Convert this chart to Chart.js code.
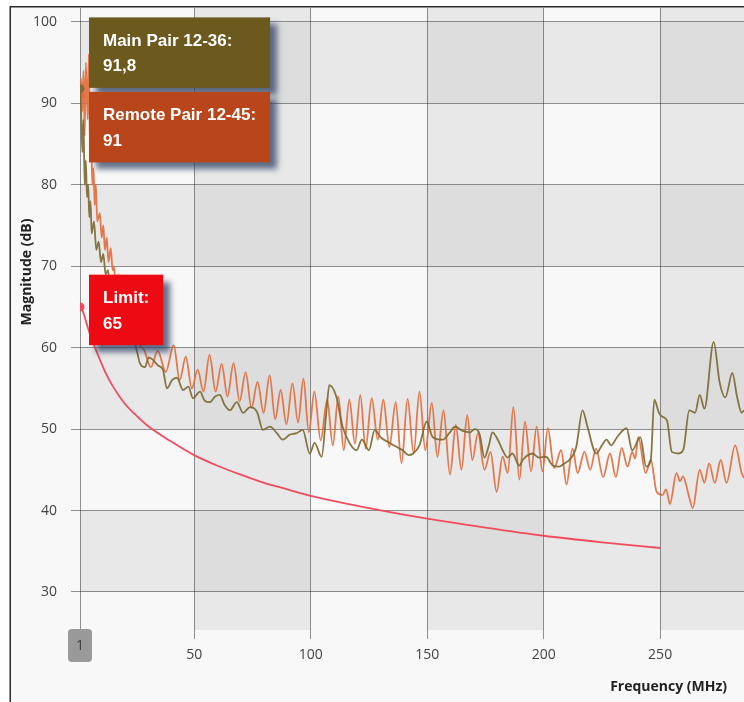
<!DOCTYPE html>
<html>
<head>
<meta charset="utf-8">
<script src="https://cdn.jsdelivr.net/npm/chart.js@4/dist/chart.umd.min.js"></script>
<style>
  html, body { margin: 0; padding: 0; background: #ffffff; overflow: hidden; }
  #wrap { position: absolute; left: 0; top: 0; width: 744px; height: 702px; }
</style>
</head>
<body>
<div id="wrap"><canvas id="chart" width="744" height="702"></canvas></div>
<script>
// Frequency sweep (MHz) and measured magnitude (dB) for each pair
const mainFreq = [1, 1.5, 2, 2.5, 3, 3.5, 4, 4.5, 5, 5.5, 6, 7, 8, 9, 10, 11, 12, 13, 14, 15, 16, 17, 18, 20, 22, 24, 25.5,
  26.7, 28.9, 30.5, 32.3, 34.5, 36.6, 38.3, 40.5, 42.6, 45.2, 47.5, 49.5, 52.5, 54.5, 56.7, 59, 61, 63, 65.3, 68.3, 71, 74,
  77, 79.5, 82.5, 85.5, 88, 91, 94, 96.6, 99.6, 101.7, 104.7, 106.8, 108, 111, 113.7, 116.7, 119.7, 122, 125, 127.5, 130,
  134, 137, 139.5, 142, 144, 146.7, 149.8, 152.4, 156.7, 159.5, 162, 165, 168.4, 170.5, 172.5, 174.6, 176.5, 178, 181,
  182.4, 184.5, 186.6, 189.6, 191, 195.2, 198, 201, 204, 206.6, 209, 211, 214, 216.7, 218.8, 222.6, 225, 227, 229, 231.5,
  235.6, 238, 241.5, 244, 246, 247.5, 249.5, 251, 253, 255, 258, 260, 262.5, 265, 267, 269, 273, 275.5, 278, 281, 283, 285, 286];
const mainDb = [91.8, 89, 84, 88, 80, 83, 78.5, 80, 76, 78, 74, 75.5, 72, 73, 70.5, 71.5, 69, 69.5, 67.5, 68, 66, 66.5, 65, 64, 62.5, 61, 59.5,
  58.1, 57.6, 58.8, 58.5, 57.8, 57.3, 55.0, 56.0, 56.3, 54.8, 55.2, 53.8, 54.6, 53.5, 53.3, 54.0, 54.2, 53.0, 52.3, 53.3, 52.0, 52.7,
  52.1, 49.9, 50.3, 49.5, 48.7, 49.3, 49.5, 49.9, 47.0, 48.3, 46.6, 52.3, 55.4, 54.0, 50.3, 48.3, 47.4, 48.7, 47.4, 49.9, 49.0,
  48.3, 47.8, 47.4, 46.8, 47.0, 48.0, 50.9, 49.0, 48.7, 49.5, 50.3, 49.8, 49.6, 50.0, 49.4, 46.5, 48.0, 49.6, 48.3,
  47.4, 46.5, 47.0, 45.5, 46.2, 47.0, 46.5, 46.6, 45.5, 45.4, 45.8, 46.2, 47.8, 52.3, 50.3, 47.0, 48.0, 48.7, 48.0, 49.0,
  50.1, 47.4, 49.0, 45.4, 46.2, 53.6, 52.0, 51.5, 51.0, 47.2, 47.0, 47.5, 52.3, 52.0, 54.2, 52.5, 60.7, 55.8, 53.9, 56.9, 54.0, 52.0, 52.3];

const remoteFreq = [1, 1.5, 2, 2.5, 3, 3.5, 4.3, 4.8, 5.3, 5.8, 6.3, 6.8, 7.3, 7.8, 8.4, 9.5, 10.3, 11, 11.7, 12.5, 13.2, 14.2,
  15, 15.5, 16.5, 17.5, 18.5, 19.5, 20.5, 21.5, 22.5, 23.5, 24.5, 25.5, 26.5,
  28.4, 31.4, 34.4, 37.8, 41.2, 43.8, 46.4, 49, 51.5, 54, 56.6, 59.2, 61.8, 64.3, 66.9, 69.5, 72.1, 74.6, 77.2, 79.8,
  82.4, 84.8, 87.1, 89.6, 92.2, 94.6, 96.9, 99.2, 101.6, 104.3, 107.1, 109.5, 111.9, 114.2, 116.6, 119, 121.3, 123.6,
  126.2, 128.8, 131.2, 133.8, 136.5, 139, 141.6, 144.2, 146.7, 149.2, 152, 154.4, 157, 159.8, 162.3, 164.7, 167.2, 169.4,
  171.8, 174.6, 177.2, 179.8, 182.4, 184.6, 187, 189.6, 192, 194.6, 197, 199.5, 201.8, 204.5, 207.5, 209.8, 212.4, 214.6,
  217.5, 220, 222.5, 225.5, 228.5, 231, 233.5, 236, 238, 239.3, 240.6, 243.8, 246, 248.5, 251, 252.6, 254.2, 257, 258.6,
  259.8, 262.5, 264, 267, 269, 271, 273.5, 276, 278.5, 282.2, 285, 286];
const remoteDb = [91, 93, 89, 94, 86, 95, 88, 96, 84, 85, 80, 82, 77.5, 80, 75.5, 76.5, 73.5, 75, 72, 73.5, 70.5, 72.2,
  69.5, 70, 67.5, 69, 66, 67, 64.5, 65.5, 63, 64, 61.5, 62.5, 60.5,
  59.8, 57.6, 59.6, 57.0, 60.3, 56.0, 58.9, 55.0, 57.3, 54.6, 59.1, 54.6, 58.0, 54.0, 58.1, 53.4, 57.0, 52.6, 55.8, 52.0,
  56.6, 51.2, 54.8, 50.6, 55.6, 50.8, 56.2, 49.6, 54.6, 48.6, 53.6, 48.0, 54.0, 47.4, 53.6, 48.2, 54.2, 47.6,
  53.8, 48.7, 53.6, 47.8, 53.3, 45.8, 53.7, 47.0, 54.6, 47.4, 53.2, 46.6, 52.3, 44.4, 50.5, 45.0, 51.7, 46.2,
  49.5, 45.0, 47.2, 42.3, 46.6, 44.6, 52.7, 43.8, 50.9, 44.8, 50.3, 44.8, 50.1, 45.2, 47.4, 43.2, 47.6, 44.6,
  47.2, 45.0, 47.6, 44.1, 47.0, 44.1, 47.7, 45.4, 47.2, 46.4, 49.0, 44.6, 46.2, 42.3, 41.9, 42.6, 40.8, 44.6, 43.6,
  44.2, 41.6, 40.3, 45.0, 43.4, 45.8, 43.4, 46.2, 43.4, 48.0, 44.6, 44.0];

const limitFreq = [1, 2, 3, 4, 5, 6, 7, 8, 10, 12, 15, 20, 25, 30, 40, 50, 60, 70, 80, 90, 100, 125, 150, 175, 200, 225, 250];
const limitDb = [65, 64.6, 63.8, 62.8, 61.9, 61.0, 60.3, 59.6, 58.2, 56.9, 55.3, 53.2, 51.7, 50.4, 48.5, 46.8, 45.5, 44.4,
  43.4, 42.6, 41.8, 40.3, 39.0, 37.9, 36.9, 36.1, 35.4];

const xTicks = [1, 50, 100, 150, 200, 250];
const yTicks = [30, 40, 50, 60, 70, 80, 90, 100];
const xRange = [1, 286];
const yRange = [25.33, 101.7];

const seriesNames = ['Main Pair 12-36', 'Remote Pair 12-45', 'Limit'];
const lineColors = ['rgba(122,104,48,0.9)', 'rgba(226,108,60,0.9)', 'rgba(242,66,88,0.95)'];
const boxColors = ['#6c591d', '#b9461a', '#ee0a13'];

const toPoints = (fs, vs) => fs.map((f, i) => ({ x: f, y: vs[i] }));
const fmt = v => String(v).replace('.', ',');

const TICK_FONT = { family: '"Open Sans", "Noto Sans", sans-serif', size: 14 };

// Background: frame, alternating row/column bands
const backdrop = {
  id: 'backdrop',
  beforeDraw(chart) {
    const { ctx, chartArea: a, scales } = chart;
    ctx.save();
    ctx.fillStyle = '#ffffff';
    ctx.fillRect(0, 0, chart.width, chart.height);
    ctx.fillStyle = '#f8f8f8';
    ctx.fillRect(10, 7, chart.width - 10, chart.height - 7);
    const xs = scales.x, ys = scales.y;
    for (let c = 0; c < 300; c += 50) {
      for (let r = 20; r < 110; r += 10) {
        const colBand = (c / 50) % 2 === 1;
        const rowBand = (r / 10) % 2 === 1;
        if (!colBand && !rowBand) continue;
        let x0 = Math.max(a.left, xs.getPixelForValue(c));
        let x1 = Math.min(a.right, xs.getPixelForValue(c + 50));
        let y0 = Math.max(a.top, ys.getPixelForValue(r + 10));
        let y1 = Math.min(a.bottom, ys.getPixelForValue(r));
        if (x1 <= x0 || y1 <= y0) continue;
        ctx.fillStyle = colBand && rowBand ? '#dddddd' : '#e8e8e8';
        ctx.fillRect(x0, y0, x1 - x0, y1 - y0);
      }
    }
    ctx.strokeStyle = '#2a2a2a';
    ctx.lineWidth = 1.5;
    ctx.beginPath();
    ctx.moveTo(10.25, chart.height);
    ctx.lineTo(10.25, 6.75);
    ctx.lineTo(chart.width, 6.75);
    ctx.stroke();
    ctx.restore();
  }
};

// Value boxes at the first sweep point, axis titles and the crosshair badge
const overlay = {
  id: 'overlay',
  afterDraw(chart) {
    const { ctx, chartArea: a, scales } = chart;
    const xs = scales.x, ys = scales.y;
    ctx.save();

    // crosshair badge on the x axis
    const bx = xs.getPixelForValue(xTicks[0]);
    ctx.fillStyle = '#999999';
    ctx.beginPath();
    ctx.roundRect(bx - 12, a.bottom - 1, 24, 33, 4);
    ctx.fill();
    ctx.fillStyle = '#3c3c3c';
    ctx.font = '14px "Open Sans", sans-serif';
    ctx.textAlign = 'center';
    ctx.textBaseline = 'middle';
    ctx.fillText(String(xTicks[0]), bx, a.bottom + 16);

    // axis titles
    ctx.fillStyle = '#222222';
    ctx.font = 'bold 14px "Open Sans", sans-serif';
    ctx.textAlign = 'right';
    ctx.fillText('Frequency (MHz)', 727, 687);
    ctx.save();
    ctx.translate(27, 272);
    ctx.rotate(-Math.PI / 2);
    ctx.textAlign = 'center';
    ctx.fillText('Magnitude (dB)', 0, 0);
    ctx.restore();

    // value boxes
    ctx.font = 'bold 17px "Liberation Sans", Arial, sans-serif';
    const boxH = 70.5, padX = 14, gap = 4;
    const bodies = chart.data.datasets.map((ds, i) => {
      const v = ds.data[0].y;
      const lines = [seriesNames[i] + ':', fmt(v)];
      const w = Math.max(...lines.map(t => ctx.measureText(t).width)) + padX * 2;
      return { i, v, y: ys.getPixelForValue(v), lines, w };
    });
    // pairs whose boxes would overlap are stacked around their mean position
    const pair = [bodies[0], bodies[1]].sort((p, q) => q.v - p.v);
    const mid = (pair[0].y + pair[1].y) / 2 - 2;
    const wPair = Math.max(pair[0].w, pair[1].w);
    pair[0].top = mid - gap / 2 - boxH; pair[0].w = wPair;
    pair[1].top = mid + gap / 2; pair[1].w = wPair;
    bodies[2].top = bodies[2].y - boxH / 2 + 3;

    const left = bx + 9;
    [pair[0], pair[1], bodies[2]].forEach(b => {
      ctx.save();
      ctx.shadowColor = 'rgba(45,65,100,0.75)';
      ctx.shadowBlur = 6;
      ctx.shadowOffsetX = 7;
      ctx.shadowOffsetY = 7;
      ctx.fillStyle = boxColors[b.i];
      ctx.fillRect(left, b.top, b.w, boxH);
      ctx.restore();
      ctx.fillStyle = '#ffffff';
      ctx.textAlign = 'left';
      ctx.textBaseline = 'alphabetic';
      ctx.fillText(b.lines[0], left + padX, b.top + 28.5);
      ctx.fillText(b.lines[1], left + padX, b.top + 54);
    });
    ctx.restore();
  }
};

const makeSet = (i, fs, vs, width) => ({
  label: seriesNames[i],
  data: toPoints(fs, vs),
  borderColor: lineColors[i],
  backgroundColor: lineColors[i],
  borderWidth: width,
  cubicInterpolationMode: 'monotone',
  pointRadius: c => (c.dataIndex === 0 ? 4.5 : 0),
  pointBorderWidth: 0,
  pointHoverRadius: 0,
  fill: false
});

const noEdgePadding = s => { s.paddingTop = 0; s.paddingBottom = 0; s.paddingLeft = 0; s.paddingRight = 0; };

new Chart(document.getElementById('chart'), {
  type: 'line',
  data: {
    datasets: [
      makeSet(0, mainFreq, mainDb, 1.8),
      makeSet(1, remoteFreq, remoteDb, 1.8),
      makeSet(2, limitFreq, limitDb, 1.8)
    ]
  },
  options: {
    responsive: false,
    animation: false,
    devicePixelRatio: 1,
    layout: { autoPadding: false, padding: { top: 8, left: 0, right: 0, bottom: 0 } },
    plugins: { legend: { display: false }, tooltip: { enabled: false } },
    scales: {
      x: {
        type: 'linear',
        min: xRange[0],
        max: xRange[1],
        afterBuildTicks: s => { s.ticks = xTicks.map(v => ({ value: v })); },
        afterFit: s => { s.height = 72; noEdgePadding(s); },
        border: { display: false },
        grid: { color: 'rgba(40,40,40,0.5)', lineWidth: 1, tickLength: 9 },
        ticks: {
          autoSkip: false, maxRotation: 0, padding: 8,
          color: '#444444', font: TICK_FONT,
          callback: v => (v === xTicks[0] ? '' : v)
        }
      },
      y: {
        type: 'linear',
        min: yRange[0],
        max: yRange[1],
        afterBuildTicks: s => { s.ticks = yTicks.map(v => ({ value: v })); },
        afterFit: s => { s.width = 80; noEdgePadding(s); },
        border: { display: false },
        grid: { color: 'rgba(40,40,40,0.5)', lineWidth: 1, tickLength: 9 },
        ticks: { padding: 14, color: '#444444', font: TICK_FONT }
      }
    }
  },
  plugins: [backdrop, overlay]
});
</script>
</body>
</html>
